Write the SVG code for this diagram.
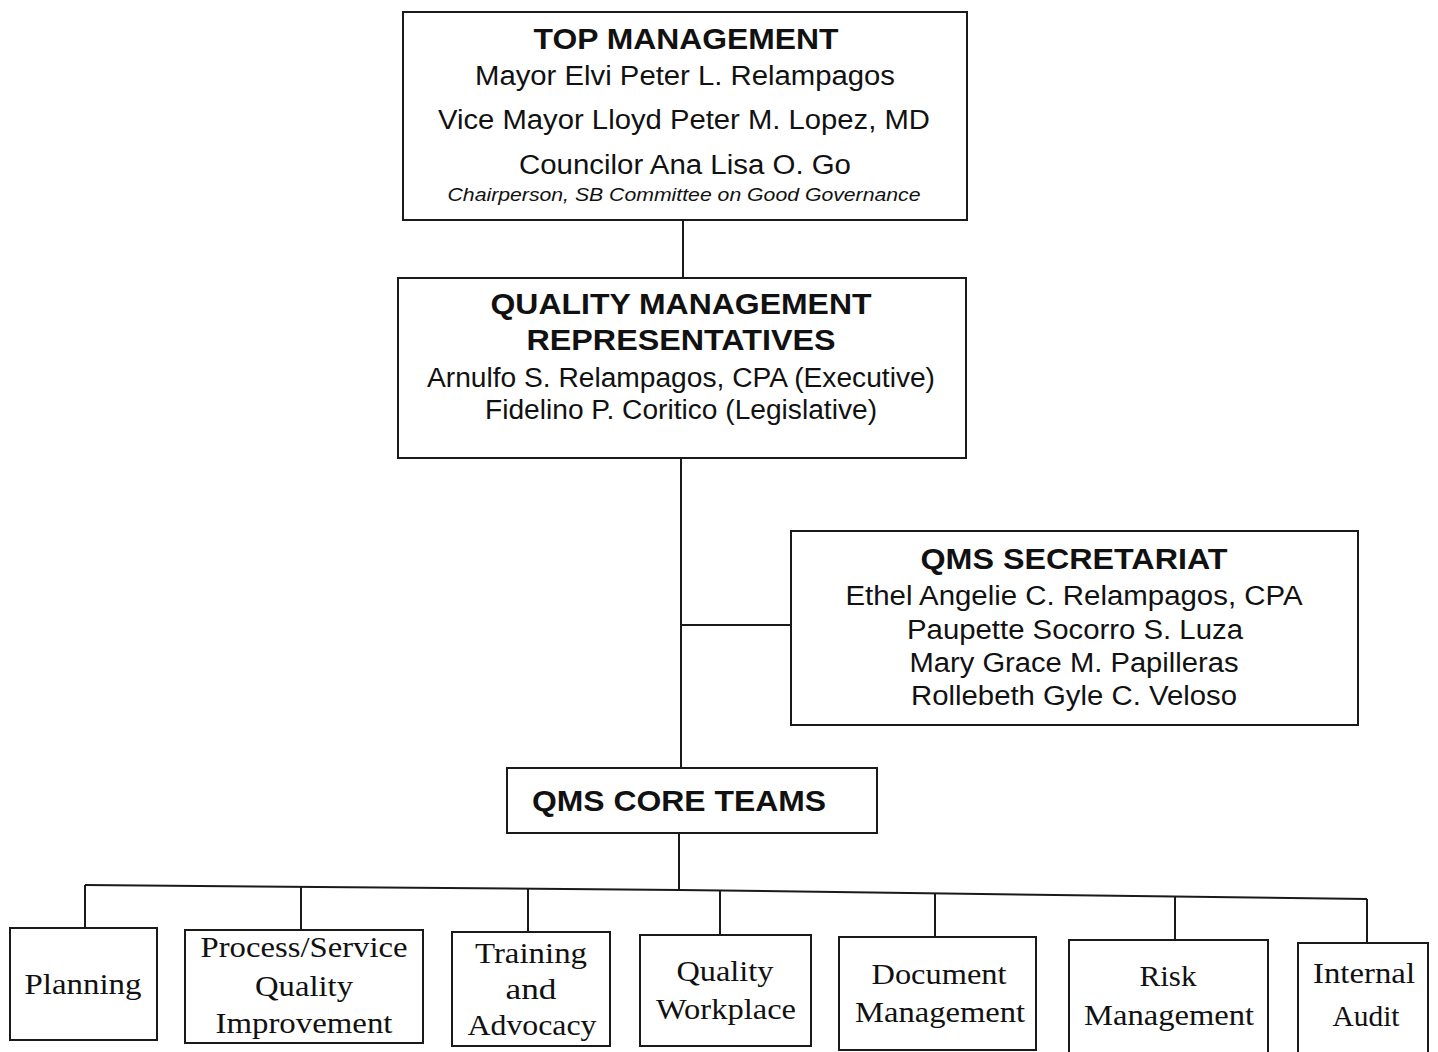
<svg xmlns="http://www.w3.org/2000/svg" width="1438" height="1052" viewBox="0 0 1438 1052">
<style>
.box{fill:#fff;stroke:#1a1a1a;stroke-width:2}
.ln{fill:none;stroke:#1a1a1a;stroke-width:2}
.h{font-family:"Liberation Sans",Arial,sans-serif;font-weight:bold;font-size:30px;fill:#111;text-anchor:middle}
.t{font-family:"Liberation Sans",Arial,sans-serif;font-size:27px;fill:#111;text-anchor:middle}
.i{font-family:"Liberation Sans",Arial,sans-serif;font-style:italic;font-size:19px;fill:#111;text-anchor:middle}
.s{font-family:"Liberation Serif","Times New Roman",serif;font-size:29px;fill:#111;text-anchor:middle}
</style>
<rect width="1438" height="1052" fill="#fff"/>
<g id="connectors">
<line class="ln" x1="683" y1="220" x2="683" y2="278"/>
<line class="ln" x1="681" y1="458" x2="681" y2="768"/>
<line class="ln" x1="681" y1="625" x2="791" y2="625"/>
<line class="ln" x1="679" y1="833" x2="679" y2="890"/>
<polyline class="ln" points="85,885 679,890 1367,899"/>
<line class="ln" x1="85" y1="885" x2="85" y2="928"/>
<line class="ln" x1="301" y1="887" x2="301" y2="930"/>
<line class="ln" x1="528" y1="889" x2="528" y2="932"/>
<line class="ln" x1="720" y1="891" x2="720" y2="935"/>
<line class="ln" x1="935" y1="893" x2="935" y2="937"/>
<line class="ln" x1="1175" y1="896" x2="1175" y2="940"/>
<line class="ln" x1="1367" y1="899" x2="1367" y2="943"/>
</g>
<g id="top-management">
<rect class="box" x="403" y="12" width="564" height="208"/>
<text class="h" x="686" y="49" textLength="305" lengthAdjust="spacingAndGlyphs">TOP MANAGEMENT</text>
<text class="t" x="685" y="85" textLength="420" lengthAdjust="spacingAndGlyphs">Mayor Elvi Peter L. Relampagos</text>
<text class="t" x="684" y="129" textLength="492" lengthAdjust="spacingAndGlyphs">Vice Mayor Lloyd Peter M. Lopez, MD</text>
<text class="t" x="685" y="174" textLength="332" lengthAdjust="spacingAndGlyphs">Councilor Ana Lisa O. Go</text>
<text class="i" x="684" y="201" textLength="473" lengthAdjust="spacingAndGlyphs">Chairperson, SB Committee on Good Governance</text>
</g>
<g id="qmr">
<rect class="box" x="398" y="278" width="568" height="180"/>
<text class="h" x="681" y="314" textLength="381" lengthAdjust="spacingAndGlyphs">QUALITY MANAGEMENT</text>
<text class="h" x="681" y="350" textLength="309" lengthAdjust="spacingAndGlyphs">REPRESENTATIVES</text>
<text class="t" x="681" y="387" textLength="508" lengthAdjust="spacingAndGlyphs">Arnulfo S. Relampagos, CPA (Executive)</text>
<text class="t" x="681" y="419" textLength="392" lengthAdjust="spacingAndGlyphs">Fidelino P. Coritico (Legislative)</text>
</g>
<g id="secretariat">
<rect class="box" x="791" y="531" width="567" height="194"/>
<text class="h" x="1074" y="569" textLength="307" lengthAdjust="spacingAndGlyphs">QMS SECRETARIAT</text>
<text class="t" x="1074" y="605" textLength="457" lengthAdjust="spacingAndGlyphs">Ethel Angelie C. Relampagos, CPA</text>
<text class="t" x="1075" y="639" textLength="336" lengthAdjust="spacingAndGlyphs">Paupette Socorro S. Luza</text>
<text class="t" x="1074" y="672" textLength="329" lengthAdjust="spacingAndGlyphs">Mary Grace M. Papilleras</text>
<text class="t" x="1074" y="705" textLength="326" lengthAdjust="spacingAndGlyphs">Rollebeth Gyle C. Veloso</text>
</g>
<g id="core-teams">
<rect class="box" x="507" y="768" width="370" height="65"/>
<text class="h" x="679" y="811" textLength="294" lengthAdjust="spacingAndGlyphs">QMS CORE TEAMS</text>
</g>
<g id="planning">
<rect class="box" x="10" y="928" width="147" height="112"/>
<text class="s" x="83" y="994" textLength="117" lengthAdjust="spacingAndGlyphs">Planning</text>
</g>
<g id="process">
<rect class="box" x="185" y="930" width="238" height="113"/>
<text class="s" x="304" y="957" textLength="207" lengthAdjust="spacingAndGlyphs">Process/Service</text>
<text class="s" x="304" y="996" textLength="98" lengthAdjust="spacingAndGlyphs">Quality</text>
<text class="s" x="304" y="1033" textLength="177" lengthAdjust="spacingAndGlyphs">Improvement</text>
</g>
<g id="training">
<rect class="box" x="452" y="932" width="158" height="114"/>
<text class="s" x="531" y="963" textLength="112" lengthAdjust="spacingAndGlyphs">Training</text>
<text class="s" x="531" y="999" textLength="51" lengthAdjust="spacingAndGlyphs">and</text>
<text class="s" x="532" y="1035" textLength="129" lengthAdjust="spacingAndGlyphs">Advocacy</text>
</g>
<g id="quality-workplace">
<rect class="box" x="640" y="935" width="171" height="111"/>
<text class="s" x="725" y="981" textLength="97" lengthAdjust="spacingAndGlyphs">Quality</text>
<text class="s" x="726" y="1019" textLength="140" lengthAdjust="spacingAndGlyphs">Workplace</text>
</g>
<g id="document-management">
<rect class="box" x="839" y="937" width="197" height="113"/>
<text class="s" x="939" y="984" textLength="135" lengthAdjust="spacingAndGlyphs">Document</text>
<text class="s" x="940" y="1022" textLength="170" lengthAdjust="spacingAndGlyphs">Management</text>
</g>
<g id="risk-management">
<rect class="box" x="1069" y="940" width="199" height="116"/>
<text class="s" x="1168" y="986" textLength="57" lengthAdjust="spacingAndGlyphs">Risk</text>
<text class="s" x="1169" y="1025" textLength="170" lengthAdjust="spacingAndGlyphs">Management</text>
</g>
<g id="internal-audit">
<rect class="box" x="1298" y="943" width="130" height="113"/>
<text class="s" x="1364" y="983" textLength="102" lengthAdjust="spacingAndGlyphs">Internal</text>
<text class="s" x="1366" y="1026" textLength="67" lengthAdjust="spacingAndGlyphs">Audit</text>
</g>
</svg>
